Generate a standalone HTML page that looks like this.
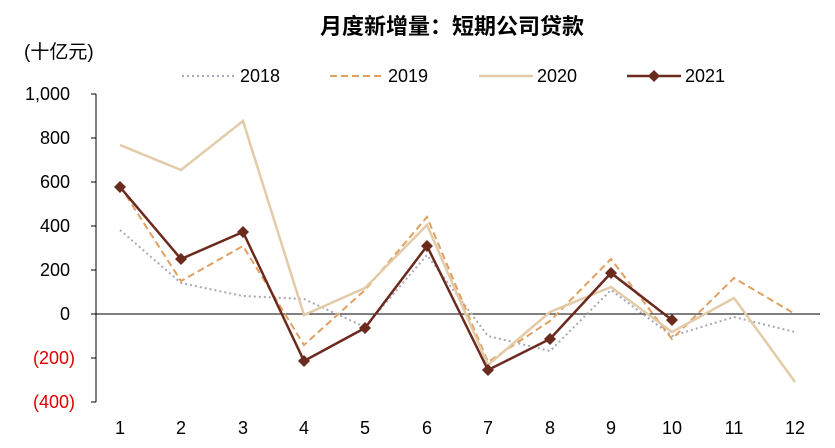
<!DOCTYPE html>
<html><head><meta charset="utf-8"><style>
body{margin:0;background:#fff;}
svg{display:block;font-family:"Liberation Sans","Noto Sans CJK SC",sans-serif;}
</style></head><body>
<svg width="835" height="448" viewBox="0 0 835 448">
<text x="452" y="34" font-size="22" font-weight="bold" text-anchor="middle" fill="#000" font-family="'Liberation Sans','Noto Sans CJK SC',sans-serif">月度新增量：短期公司贷款</text>
<text x="24" y="58" font-size="19" fill="#000">(十亿元)</text>
<!-- legend -->
<line x1="182" y1="76" x2="236" y2="76" stroke="#a8a8b8" stroke-width="2" stroke-dasharray="2,3"/>
<text x="240" y="82" font-size="18">2018</text>
<line x1="330" y1="76" x2="384" y2="76" stroke="#e0a060" stroke-width="2" stroke-dasharray="7,4"/>
<text x="388" y="82" font-size="18">2019</text>
<line x1="479" y1="76" x2="533" y2="76" stroke="#e3cba8" stroke-width="2.5"/>
<text x="537" y="82" font-size="18">2020</text>
<line x1="627" y1="76" x2="681" y2="76" stroke="#6b2a1e" stroke-width="2.5"/>
<path d="M654 70 L660 76 L654 82 L648 76Z" fill="#6b2a1e"/>
<text x="685" y="82" font-size="18">2021</text>
<!-- axes -->
<line x1="96" y1="94" x2="96" y2="402" stroke="#000" stroke-width="1"/>
<line x1="96" y1="314" x2="820" y2="314" stroke="#000" stroke-width="1"/>
<g stroke="#000"><line x1="91" y1="94" x2="96" y2="94"/><line x1="91" y1="138" x2="96" y2="138"/><line x1="91" y1="182" x2="96" y2="182"/><line x1="91" y1="226" x2="96" y2="226"/><line x1="91" y1="270" x2="96" y2="270"/><line x1="91" y1="314" x2="96" y2="314"/><line x1="91" y1="358" x2="96" y2="358"/><line x1="91" y1="402" x2="96" y2="402"/></g>
<g font-size="18" text-anchor="end">
<text x="70" y="100">1,000</text><text x="70" y="144">800</text><text x="70" y="188">600</text><text x="70" y="232">400</text><text x="70" y="276">200</text><text x="70" y="320">0</text>
<text x="75" y="364" fill="#e00000">(200)</text><text x="75" y="408" fill="#e00000">(400)</text>
</g>
<g font-size="18" text-anchor="middle">
<text x="120" y="434">1</text><text x="181" y="434">2</text><text x="243" y="434">3</text><text x="304" y="434">4</text><text x="365" y="434">5</text><text x="427" y="434">6</text><text x="488" y="434">7</text><text x="550" y="434">8</text><text x="611" y="434">9</text><text x="672" y="434">10</text><text x="734" y="434">11</text><text x="795" y="434">12</text>
</g>
<polyline fill="none" stroke="#a8a8b8" stroke-width="2" stroke-dasharray="2,3" points="120,230 181,283 243,296 304,299 365,327 427,255 488,336 550,351 611,290 672,336 734,317 795,332"/>
<polyline fill="none" stroke="#e0a060" stroke-width="2" stroke-dasharray="7,4" points="120,186 181,281 243,246 304,345 365,290 427,217 488,362 550,321 611,259 672,339 734,278 795,314"/>
<polyline fill="none" stroke="#e3cba8" stroke-width="2.5" points="120,145 181,170 243,121 304,315 365,288 427,225 488,365 550,312 611,287 672,332 734,298 795,382"/>
<polyline fill="none" stroke="#6b2a1e" stroke-width="2.5" points="120,187 181,259 243,232 304,361 365,328 427,246 488,370 550,339 611,273 672,320"/>
<g fill="#6b2a1e">
<path d="M120 181l6 6-6 6-6-6z"/><path d="M181 253l6 6-6 6-6-6z"/><path d="M243 226l6 6-6 6-6-6z"/><path d="M304 355l6 6-6 6-6-6z"/><path d="M365 322l6 6-6 6-6-6z"/><path d="M427 240l6 6-6 6-6-6z"/><path d="M488 364l6 6-6 6-6-6z"/><path d="M550 333l6 6-6 6-6-6z"/><path d="M611 267l6 6-6 6-6-6z"/><path d="M672 314l6 6-6 6-6-6z"/>
</g>
</svg>
</body></html>
